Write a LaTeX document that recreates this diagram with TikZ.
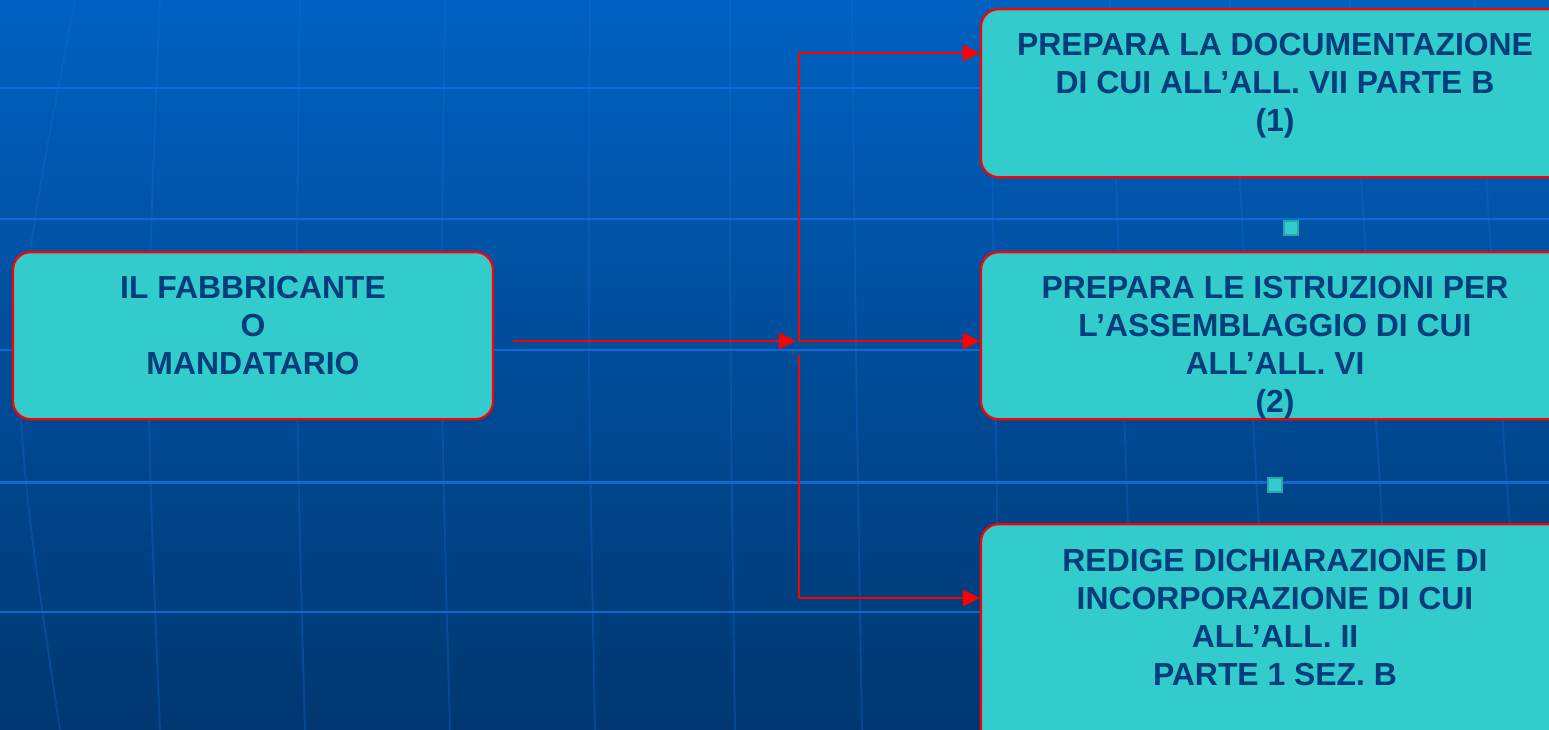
\documentclass[tikz,border=0pt]{standalone}
\usepackage{fontspec}
\setmainfont{Liberation Sans}
\usetikzlibrary{positioning,arrows.meta}

\definecolor{bgtop}{RGB}{0,97,193}
\definecolor{bgbot}{RGB}{0,55,112}
\definecolor{gridblue}{RGB}{20,112,222}
\definecolor{teal}{RGB}{51,204,204}
\definecolor{tealdark}{RGB}{40,166,170}
\definecolor{inkblue}{RGB}{0,61,122}
\definecolor{linkred}{RGB}{255,0,0}

\begin{document}
\begin{tikzpicture}[
  box/.style={draw=linkred, line width=0.65pt, fill=teal, rounded corners=5pt, inner sep=0pt},
  boxtext/.style={inner sep=0pt, align=center, text=inkblue,
    font=\fontsize{9.07pt}{10.77pt}\selectfont\bfseries},
  link/.style={draw=linkred, line width=0.6pt},
  flow/.style={link, -{Triangle[length=4.8pt,width=4.6pt]}},
  sqmark/.style={draw=tealdark, line width=0.3pt, fill=teal, minimum size=0.14cm, inner sep=0pt},
  gridline/.style={draw=gridblue, line width=0.85pt, opacity=0.8},
  meridian/.style={draw=gridblue, line width=0.55pt, opacity=0.3}]

  \clip (0,0) rectangle (15.49,-7.30);
  \shade[top color=bgtop, bottom color=bgbot] (0,0) rectangle (15.49,-7.30);

  % globe lines behind everything
  \foreach \yy in {0.88,2.19,3.50,4.82,6.12}
    \draw[gridline] (0,-\yy) -- (15.49,-\yy);
  \foreach \xt/\xm/\xb in {0.75/0.05/0.6, 1.6/1.45/1.6, 3.0/2.95/3.05, 4.45/4.4/4.5,
      5.9/5.88/5.95, 7.3/7.3/7.35, 8.52/8.56/8.62, 9.9/9.95/10.0, 11.1/11.22/11.35,
      12.3/12.5/12.7, 13.5/13.72/13.95, 14.75/14.98/15.25}
    \draw[meridian] (\xt,0) .. controls (\xm,-3.65) .. (\xb,-7.30);

  % boxes
  \node[box, anchor=north, minimum width=4.80cm, minimum height=1.67cm] (fab) at (2.53,-2.51) {};
  \node[box, anchor=north, minimum width=5.88cm, minimum height=1.68cm] (doc) at (12.75,-0.08) {};
  \node[box, anchor=north, minimum width=5.88cm, minimum height=1.67cm] (istr) at (12.75,-2.51) {};
  \node[box, anchor=north, minimum width=5.88cm, minimum height=2.30cm] (dich) at (12.75,-5.23) {};

  \node[boxtext, below=0.245cm of fab.north] (fabtext) {IL FABBRICANTE\\O\\MANDATARIO};
  \node[boxtext, below=0.245cm of doc.north] (doctext)
    {PREPARA LA DOCUMENTAZIONE\\DI CUI ALL’ALL. VII PARTE B\\(1)};
  \node[boxtext, below=0.245cm of istr.north] (istrtext)
    {PREPARA LE ISTRUZIONI PER\\L’ASSEMBLAGGIO DI CUI\\ALL’ALL. VI\\(2)};
  \node[boxtext, below=0.255cm of dich.north] (dichtext)
    {REDIGE DICHIARAZIONE DI\\INCORPORAZIONE DI CUI\\ALL’ALL. II\\PARTE 1 SEZ. B};

  \node[sqmark] (sqa) at (12.91,-2.28) {};
  \node[sqmark] (sqb) at (12.75,-4.85) {};

  % connectors
  \coordinate (j) at (7.99,-3.41);
  \coordinate (t) at (7.99,-0.53);
  \coordinate (b) at (7.99,-5.98);

  \draw[flow] ([xshift=0.19cm]fab.east |- j) -- ([xshift=-0.03cm]j);
  \draw[link] (t) -- (j);
  \draw[link, line width=0.35pt] ([yshift=-0.14cm]j) -- (b);
  \draw[flow] (t) -- (t -| doc.west);
  \draw[flow] (j) -- (j -| istr.west);
  \draw[flow] (b) -- (b -| dich.west);
\end{tikzpicture}
\end{document}
